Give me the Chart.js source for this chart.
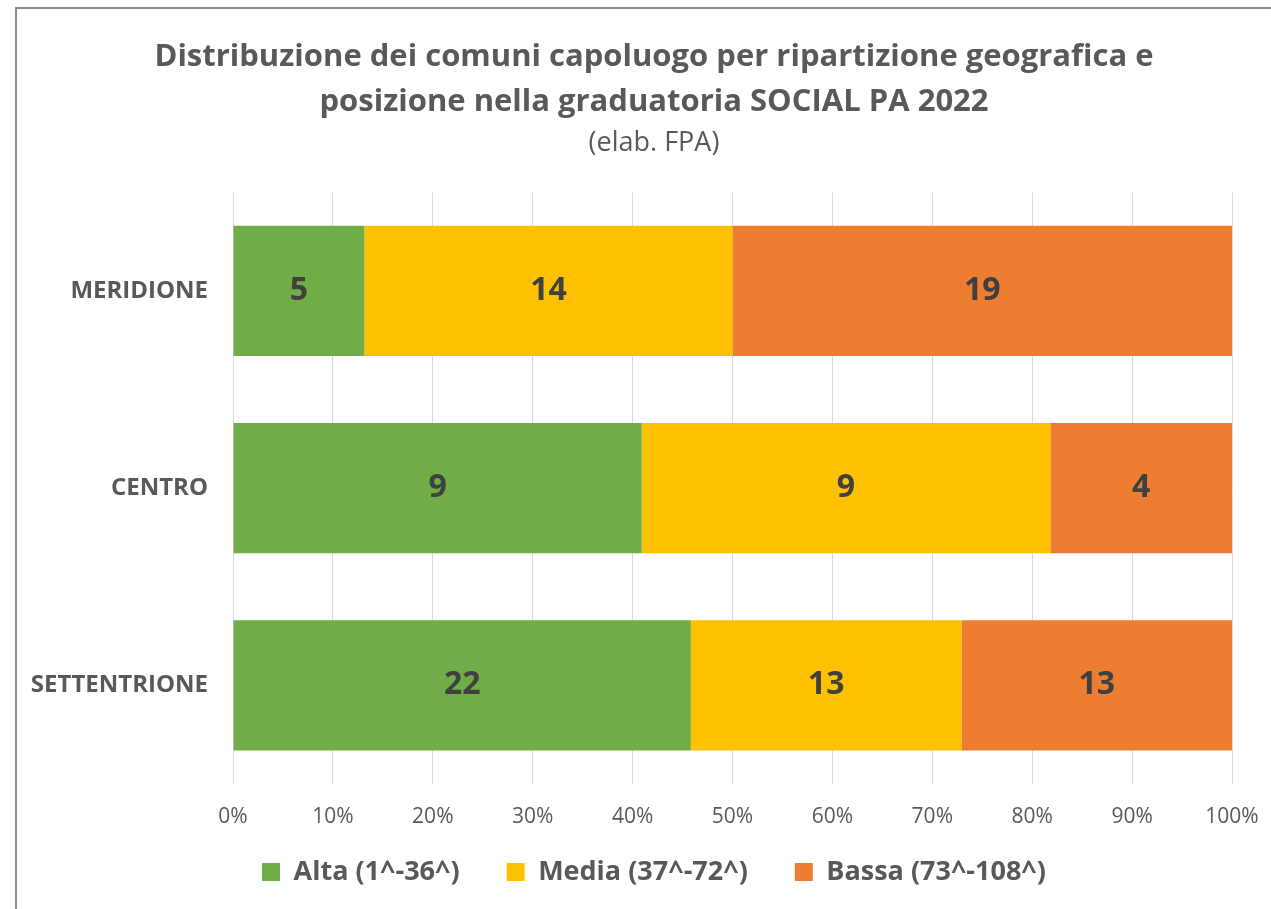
<!DOCTYPE html>
<html>
<head>
<meta charset="utf-8">
<script src="https://cdn.jsdelivr.net/npm/chart.js@4.4.0/dist/chart.umd.min.js"></script>
<style>
  html, body { margin: 0; padding: 0; background: #fff; }
  #wrap { width: 1271px; height: 909px; position: relative; }
</style>
</head>
<body>
<div id="wrap"><canvas id="chart"></canvas></div>
<script>
// Dati
const categories = ['MERIDIONE', 'CENTRO', 'SETTENTRIONE'];
const seriesNames = ['Alta (1^-36^)', 'Media (37^-72^)', 'Bassa (73^-108^)'];
const alta = [5, 9, 22];
const media = [14, 9, 13];
const bassa = [19, 4, 13];
const seriesColors = ['#70ad47', '#ffc000', '#ed7d31'];
const tickValues = [0, 10, 20, 30, 40, 50, 60, 70, 80, 90, 100];

Chart.defaults.font.family = '"Open Sans", sans-serif';
Chart.defaults.color = '#595959';

const counts = [alta, media, bassa];
const totals = categories.map((c, i) => alta[i] + media[i] + bassa[i]);

// Percentuali per il grafico 100% in pila
const datasets = counts.map((vals, s) => ({
    label: seriesNames[s],
    data: vals.map((v, i) => v / totals[i] * 100),
    counts: vals,
    backgroundColor: seriesColors[s],
    borderWidth: 0,
    barPercentage: 0.66,
    categoryPercentage: 1
}));

// Etichette dei valori al centro dei segmenti
const valueLabels = {
    id: 'valueLabels',
    afterDatasetsDraw(chart) {
        const ctx = chart.ctx;
        ctx.save();
        ctx.font = 'bold 32px "Open Sans", sans-serif';
        ctx.fillStyle = '#404040';
        ctx.textAlign = 'center';
        ctx.textBaseline = 'middle';
        chart.data.datasets.forEach((ds, di) => {
            chart.getDatasetMeta(di).data.forEach((bar, i) => {
                const p = bar.getCenterPoint();
                ctx.fillText(String(ds.counts[i]), p.x, p.y);
            });
        });
        ctx.restore();
    }
};

// Cornice grigia del riquadro + niente ritaglio delle etichette degli assi
const frame = {
    id: 'frame',
    afterLayout(chart) {
        chart.scales.y.left = 0;
        chart.scales.x.bottom = chart.height;
    },
    beforeDraw(chart) {
        const ctx = chart.ctx;
        ctx.save();
        ctx.strokeStyle = '#8c8c8c';
        ctx.lineWidth = 2;
        ctx.beginPath();
        ctx.moveTo(16, chart.height);
        ctx.lineTo(16, 8);
        ctx.lineTo(chart.width, 8);
        ctx.stroke();
        ctx.restore();
    }
};

new Chart(document.getElementById('chart'), {
    type: 'bar',
    data: { labels: categories, datasets: datasets },
    plugins: [valueLabels, frame],
    options: {
        indexAxis: 'y',
        responsive: true,
        maintainAspectRatio: false,
        animation: false,
        layout: { padding: { top: 35, right: 39, bottom: 13.5, left: 76 } },
        plugins: {
            title: {
                display: true,
                text: ['Distribuzione dei comuni capoluogo per ripartizione geografica e',
                       'posizione nella graduatoria SOCIAL PA 2022'],
                font: { size: 31, weight: 'bold', lineHeight: 1.45 },
                color: '#595959',
                padding: { top: 0, bottom: 0 }
            },
            subtitle: {
                display: true,
                text: '(elab. FPA)',
                font: { size: 27, lineHeight: 1.2 },
                color: '#595959',
                padding: { top: 2, bottom: 33 }
            },
            legend: {
                position: 'bottom',
                labels: {
                    boxWidth: 18,
                    boxHeight: 18,
                    padding: 47,
                    color: '#595959',
                    font: { size: 27, weight: 'bold' }
                }
            },
            tooltip: { enabled: false }
        },
        scales: {
            x: {
                stacked: true,
                min: 0,
                max: 100,
                afterBuildTicks(scale) {
                    scale.ticks = tickValues.map(v => ({ value: v }));
                },
                afterFit(scale) {
                    scale.height = 27.5;
                    scale.paddingLeft = 0;
                    scale.paddingRight = 0;
                },
                ticks: {
                    callback: v => v + '%',
                    font: { size: 21 },
                    color: '#595959',
                    padding: 20
                },
                grid: { color: '#d9d9d9', drawTicks: false, lineWidth: 1 },
                border: { display: false }
            },
            y: {
                stacked: true,
                afterFit(scale) { scale.width = 157; },
                ticks: {
                    font: { size: 24, weight: 'bold' },
                    color: '#595959',
                    padding: 17
                },
                grid: { display: false },
                border: { display: false }
            }
        }
    }
});
</script>
</body>
</html>
